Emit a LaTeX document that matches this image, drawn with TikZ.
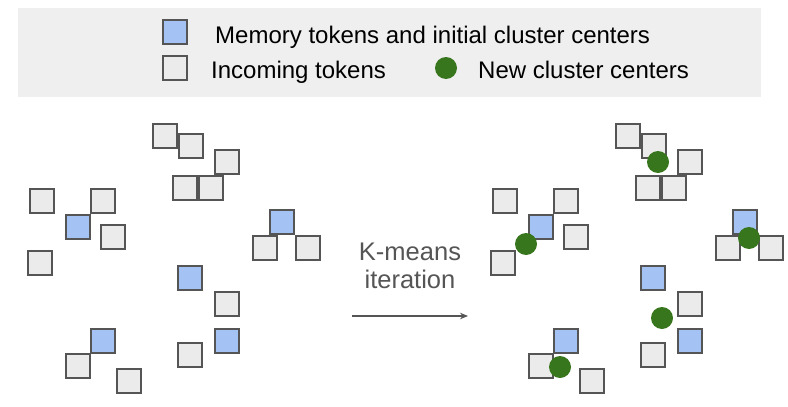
\documentclass[tikz,border=0pt]{standalone}
\usepackage{fontspec}
\setmainfont{Liberation Sans}
\usetikzlibrary{arrows.meta}
\definecolor{memblue}{HTML}{A4C2F4}
\definecolor{tokgray}{HTML}{EBEBEB}
\definecolor{edgegray}{HTML}{555555}
\definecolor{newgreen}{HTML}{38761D}
\definecolor{legendbg}{HTML}{EFEFEF}

\begin{document}
\begin{tikzpicture}[x=1pt,y=-1pt,
    token/.style={draw=edgegray,line width=1.6pt,fill=tokgray,minimum size=24.4pt,inner sep=0pt,anchor=north west},
    mem/.style={token,fill=memblue},
    newc/.style={circle,fill=newgreen,minimum size=22pt,inner sep=0pt},
    legtext/.style={anchor=base west,inner sep=0pt,font=\fontsize{24}{28}\selectfont}]
\useasboundingbox (0,0) rectangle (788,407);
\fill[legendbg] (18,8) rectangle (761,97);
\node[mem] (legm) at (162,19) {};
\node[token] (legt) at (162,55) {};
\node[newc] (legc) at (446,68) {};
\node[legtext] (legmtext) at (215,43) {Memory tokens and initial cluster centers};
\node[legtext] (legttext) at (211,78) {Incoming tokens};
\node[legtext] (legctext) at (478,78) {New cluster centers};
\foreach \p/\dx in {L/0,R/463} {
    \foreach \x/\y [count=\i] in {152/123,178/133,214/149,172/175,198/175,29/188,90/188,
        100/224,27/250,252/235,295/235,214/291,177/342,65/353,116/368}
        \node[token] (\p g\i) at (\x+\dx,\y) {};
    \foreach \x/\y [count=\i] in {65/214,269/209,177/265,214/328,90/328}
        \node[mem] (\p m\i) at (\x+\dx,\y) {};
}
\foreach \x/\y [count=\i] in {658/162,526/244,749/238,662/318,560/367}
    \node[newc] (c\i) at (\x,\y) {};
\node[align=center,text=edgegray,font=\fontsize{25.5}{28}\selectfont] (kmeans) at (410,266) {K-means\\iteration};
\coordinate (arrs) at (352,316);
\coordinate (arre) at (468,316);
\draw[-{Stealth[length=8pt,width=6.5pt]},edgegray,line width=1.2pt] (arrs) -- (arre);
\end{tikzpicture}
\end{document}
